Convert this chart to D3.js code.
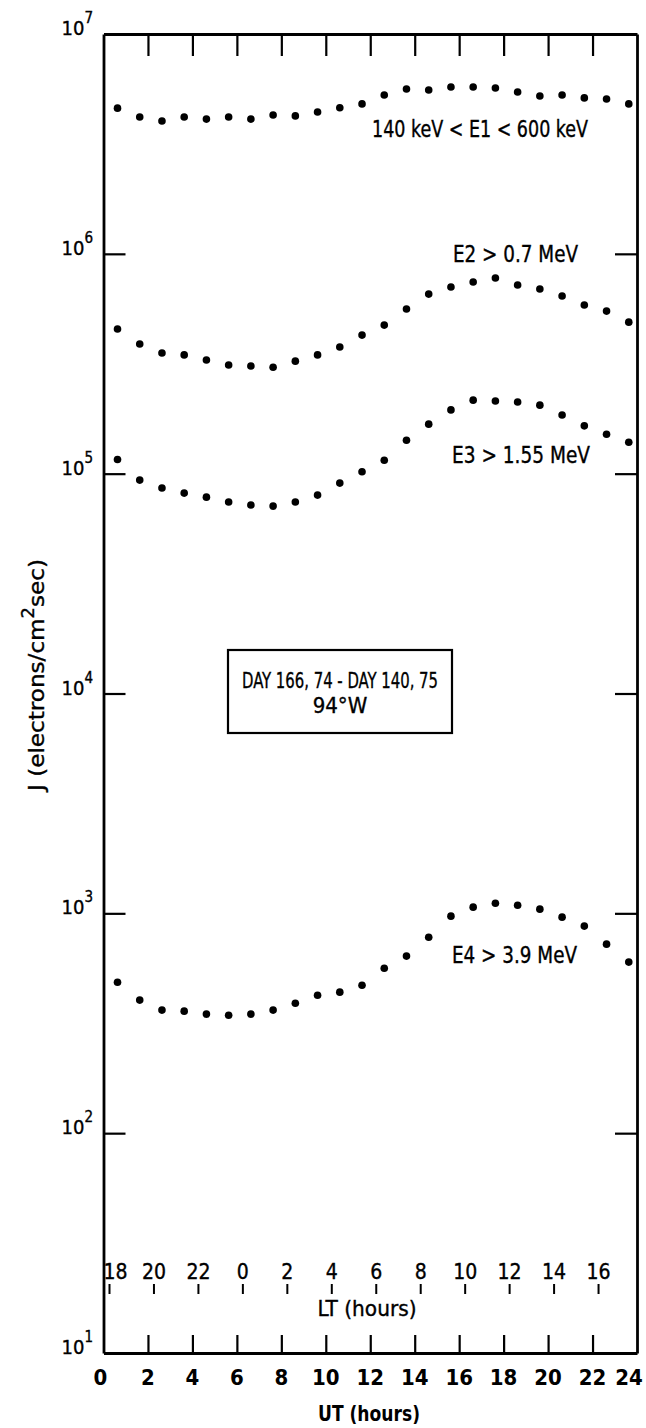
<!DOCTYPE html>
<html><head><meta charset="utf-8">
<script src="https://cdn.jsdelivr.net/npm/d3@7"></script>
<style>
body{margin:0;background:#fff}
svg{display:block}
text{font-family:"DejaVu Sans Condensed","Liberation Sans Narrow","Arial Narrow",sans-serif;font-stretch:condensed;fill:#000;stroke:#000;stroke-width:0.35}
</style></head><body>
<svg id="c" width="646" height="1428"></svg>
<script>
// ---- data ----
const utHours = [0.63,1.63,2.63,3.63,4.63,5.63,6.63,7.63,8.63,9.63,10.63,11.63,12.63,13.63,14.63,15.63,16.63,17.63,18.63,19.63,20.63,21.63,22.63,23.63];
const e1 = [4.60e6,4.19e6,4.02e6,4.19e6,4.10e6,4.19e6,4.10e6,4.28e6,4.24e6,4.42e6,4.62e6,4.81e6,5.28e6,5.62e6,5.56e6,5.74e6,5.74e6,5.68e6,5.45e6,5.22e6,5.28e6,5.12e6,5.06e6,4.81e6];
const e2 = [4.55e5,3.89e5,3.54e5,3.47e5,3.29e5,3.12e5,3.09e5,3.05e5,3.25e5,3.47e5,3.77e5,4.27e5,4.74e5,5.61e5,6.56e5,7.06e5,7.44e5,7.76e5,7.21e5,6.92e5,6.43e5,5.85e5,5.49e5,4.89e5];
const e3 = [1.16e5,9.35e4,8.60e4,8.16e4,7.82e4,7.43e4,7.20e4,7.12e4,7.43e4,7.99e4,9.06e4,1.02e5,1.15e5,1.42e5,1.68e5,1.95e5,2.16e5,2.14e5,2.12e5,2.05e5,1.85e5,1.65e5,1.51e5,1.39e5];
const e4 = [486,403,363,359,348,344,348,363,390,424,438,471,563,639,779,971,1067,1112,1089,1045,961,875,724,600];
const seriesLabels = ["140 keV < E1 < 600 keV","E2 > 0.7 MeV","E3 > 1.55 MeV","E4 > 3.9 MeV"];
const yDecades = [1,2,3,4,5,6,7];
const utTicks = [0,2,4,6,8,10,12,14,16,18,20,22,24];
const ltLabels = [18,20,22,0,2,4,6,8,10,12,14,16];
const ltOffset = 6.27; // 94°W
const boxLines = ["DAY 166, 74  -  DAY 140, 75","94°W"];

// ---- chart ----
const svg = d3.select("#c");
svg.append("rect").attr("width",646).attr("height",1428).attr("fill","#fff");
const L=103.5,R=637,T=34,B=1353;
const x = d3.scaleLinear().domain([0,24]).range([L,R]);
const y = d3.scaleLog().domain([10,1e7]).range([B,T]);
const decVals = yDecades.map(d=>Math.pow(10,d));
const inner = utTicks.filter(d=>d>0&&d<24);

function styleAxis(g){
  g.select(".domain").attr("stroke","#000").attr("stroke-width",2.8);
  g.selectAll(".tick line").attr("stroke","#000").attr("stroke-width",2.2);
  g.selectAll(".tick text").remove();
}
svg.append("g").attr("transform",`translate(0,${T})`)
  .call(d3.axisTop(x).tickValues(inner).tickSizeInner(-22).tickSizeOuter(0).tickFormat(""))
  .call(styleAxis);
svg.append("g").attr("transform",`translate(0,${B})`)
  .call(d3.axisBottom(x).tickValues(inner).tickSizeInner(-18).tickSizeOuter(0).tickFormat(""))
  .call(styleAxis);
svg.append("g").attr("transform",`translate(${L},0)`)
  .call(d3.axisLeft(y).tickValues(decVals.slice(1,-1)).tickSizeInner(-22).tickSizeOuter(0).tickFormat(""))
  .call(styleAxis);
svg.append("g").attr("transform",`translate(${R},0)`)
  .call(d3.axisRight(y).tickValues(decVals.slice(1,-1)).tickSizeInner(-22).tickSizeOuter(0).tickFormat(""))
  .call(styleAxis);

// y tick labels 10^n
const yl = svg.append("g");
yDecades.forEach(n=>{
  const t = yl.append("text").attr("x",93).attr("y",y(Math.pow(10,n))+1)
    .attr("text-anchor","end").attr("font-size",20);
  t.append("tspan").text("10");
  t.append("tspan").attr("dy",-12).attr("font-size",15).text(n);
});

// UT tick labels
const utShift = {0:-3, 24:-8};
svg.append("g").selectAll("text").data(utTicks).join("text")
  .attr("x",d=>x(d)+(utShift[d]||0)).attr("y",1385).attr("text-anchor","middle")
  .attr("font-size",22).attr("font-weight","bold").style("stroke-width",0).text(d=>d);
svg.append("text").attr("x",369).attr("y",1421).attr("text-anchor","middle")
  .attr("font-size",21).attr("font-weight","bold").style("stroke-width",0)
  .attr("textLength",102).attr("lengthAdjust","spacingAndGlyphs").text("UT (hours)");

// LT scale
const ltPos = ltLabels.map(h=>((h+ltOffset)%24));
svg.append("g").selectAll("line").data(ltPos).join("line")
  .attr("x1",d=>x(d)).attr("x2",d=>x(d)).attr("y1",1284).attr("y2",1294)
  .attr("stroke","#000").attr("stroke-width",2);
svg.append("g").selectAll("text").data(ltLabels).join("text")
  .attr("x",(d,i)=>x(ltPos[i])+(i===0?6:0)).attr("y",1279).attr("text-anchor","middle")
  .attr("font-size",21).text(d=>d);
svg.append("text").attr("x",367).attr("y",1316).attr("text-anchor","middle")
  .attr("font-size",21).attr("textLength",99).attr("lengthAdjust","spacingAndGlyphs").text("LT (hours)");

// y title
const yt = svg.append("text").attr("transform","translate(44,675) rotate(-90)")
  .attr("text-anchor","middle").attr("font-size",22)
  .attr("textLength",232).attr("lengthAdjust","spacingAndGlyphs");
yt.append("tspan").text("J (electrons/cm");
yt.append("tspan").attr("dy",-10).attr("font-size",17).text("2");
yt.append("tspan").attr("dy",10).text("sec)");

// dots
const series = [e1,e2,e3,e4];
series.forEach(s=>{
  svg.append("g").selectAll("circle").data(s).join("circle")
    .attr("cx",(d,i)=>x(utHours[i])).attr("cy",d=>y(d)).attr("r",3.8).attr("fill","#000");
});

// series labels
const labPos = [[372,137,216],[453,262,125],[452,463,138],[452,963,125]];
seriesLabels.forEach((t,i)=>{
  svg.append("text").attr("x",labPos[i][0]).attr("y",labPos[i][1])
    .attr("font-size",23).attr("textLength",labPos[i][2]).attr("lengthAdjust","spacingAndGlyphs").text(t);
});

// info box
svg.append("rect").attr("x",228).attr("y",650).attr("width",224).attr("height",83)
  .attr("fill","none").attr("stroke","#000").attr("stroke-width",2.2);
svg.append("text").attr("x",340).attr("y",688).attr("text-anchor","middle").attr("font-size",22)
  .attr("textLength",196).attr("lengthAdjust","spacingAndGlyphs").text(boxLines[0]);
svg.append("text").attr("x",340).attr("y",713).attr("text-anchor","middle").attr("font-size",22).text(boxLines[1]);
</script>
</body></html>
